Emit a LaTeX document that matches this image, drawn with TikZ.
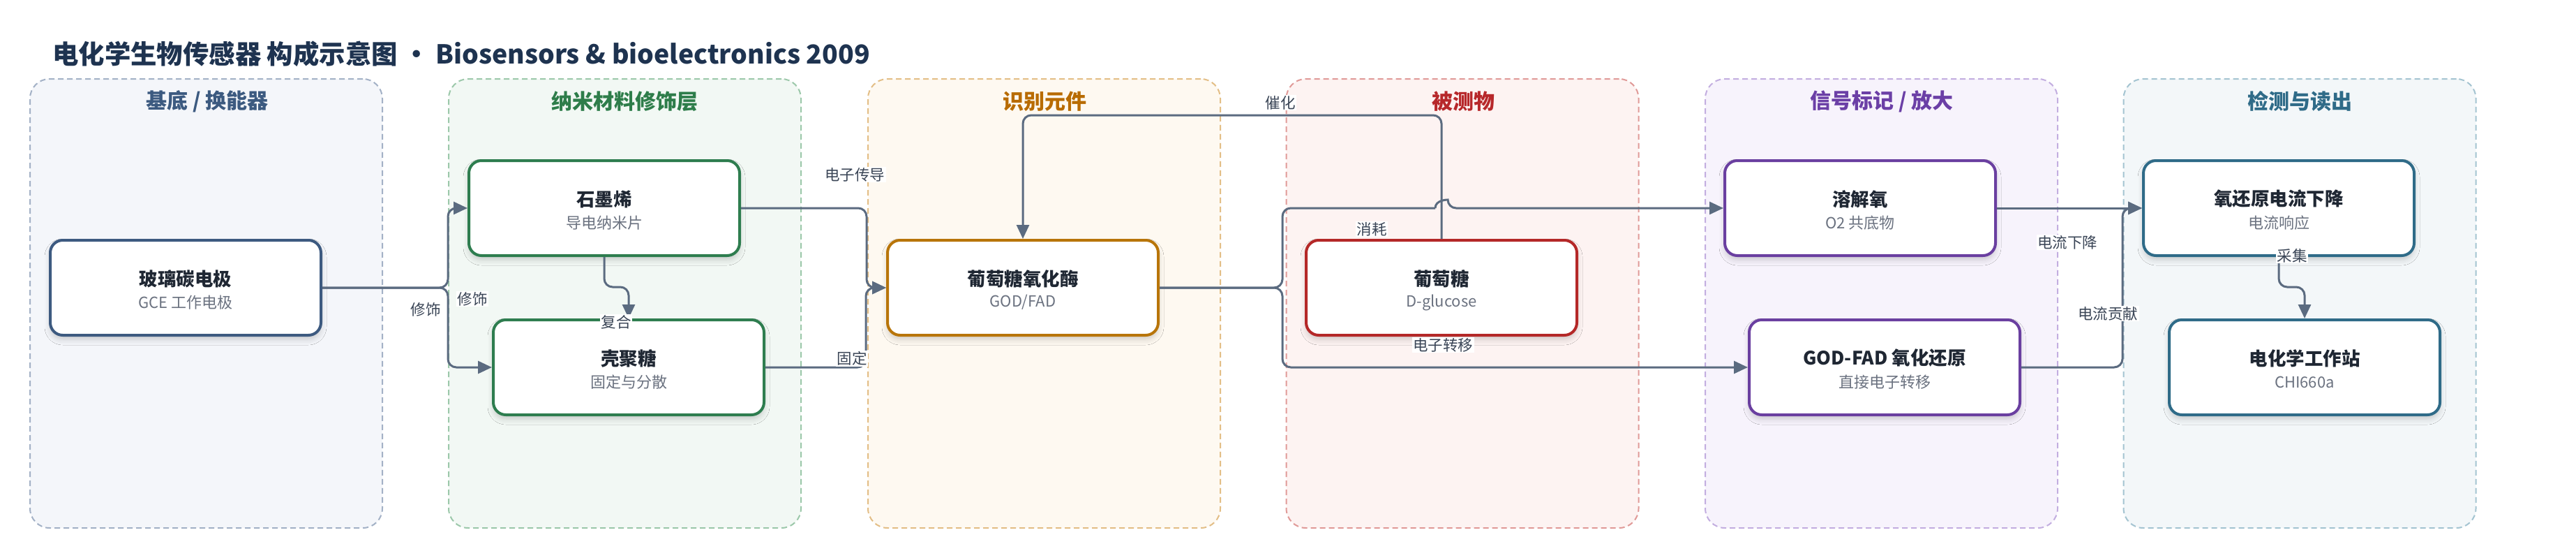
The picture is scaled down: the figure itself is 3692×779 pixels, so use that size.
\documentclass[tikz,border=0pt]{standalone}
\usepackage{fontspec}
\setmainfont{Noto Sans CJK SC}
\usetikzlibrary{arrows.meta,shadows.blur,calc}
\definecolor{titlec}{HTML}{1E3350}
\definecolor{edgec}{HTML}{5B6B80}
\definecolor{lblc}{HTML}{3A4556}
\definecolor{subc}{HTML}{6B7280}
\definecolor{ntc}{HTML}{1F2733}
\definecolor{bAf}{HTML}{F4F6FA}\definecolor{bAd}{HTML}{A3B1C6}\definecolor{bAt}{HTML}{3C5A80}
\definecolor{bBf}{HTML}{F2F8F4}\definecolor{bBd}{HTML}{9CC8AA}\definecolor{bBt}{HTML}{2E7D4A}
\definecolor{bCf}{HTML}{FEF9F1}\definecolor{bCd}{HTML}{E3BE86}\definecolor{bCt}{HTML}{B86B00}
\definecolor{bDf}{HTML}{FDF3F2}\definecolor{bDd}{HTML}{E09A98}\definecolor{bDt}{HTML}{B7282B}
\definecolor{bEf}{HTML}{F7F3FC}\definecolor{bEd}{HTML}{C3AEE0}\definecolor{bEt}{HTML}{6B3FA6}
\definecolor{bFf}{HTML}{F3F7F9}\definecolor{bFd}{HTML}{A4C4D1}\definecolor{bFt}{HTML}{2F6B88}
\definecolor{nA}{HTML}{3D5A80}
\definecolor{nB}{HTML}{2E7D4F}
\definecolor{nC}{HTML}{B8750A}
\definecolor{nD}{HTML}{B42828}
\definecolor{nE}{HTML}{6A3FA0}
\definecolor{nF}{HTML}{2F6B88}
\tikzset{
  panelbox/.style 2 args={draw=#1, fill=#2, line width=2pt, dash pattern=on 8pt off 5pt,
    rounded corners=28pt, minimum width=505pt, minimum height=643pt, inner sep=0pt},
  ptitle/.style={text=#1, font=\fontsize{30}{32}\selectfont\bfseries, inner sep=0pt},
  box/.style={draw=#1, fill=white, line width=4pt, rounded corners=18pt,
    minimum width=388pt, minimum height=136pt, inner sep=0pt,
    blur shadow={shadow xshift=0pt, shadow yshift=-6pt, shadow blur radius=8pt,
      shadow blur steps=6, shadow opacity=18}},
  ntitle/.style={text=ntc, font=\fontsize{26.5}{28}\selectfont\bfseries, inner sep=0pt},
  nsub/.style={text=subc, font=\fontsize{22}{24}\selectfont, inner sep=0pt},
  conn/.style={draw=edgec, line width=3pt, rounded corners=12pt},
  arr/.style={-{Triangle[length=20pt,width=18pt]}},
  lbl/.style={fill=white, text=lblc, font=\fontsize{21.5}{23}\selectfont, inner sep=1.5pt},
}
\newcommand\bnode[6]{%
  \node[box=#4] (#1) at (#2,#3) {};
  \node[ntitle] (#1-t) at ($(#1.center)+(0,-13)$) {#5};
  \node[nsub] (#1-s) at ($(#1.center)+(0,21)$) {#6};
}
\begin{document}
\begin{tikzpicture}[x=1pt,y=-1pt]
\fill[white] (0,0) rectangle (3692,779);
\useasboundingbox (0,0) rectangle (3692,779);
% title
\node[anchor=west, text=titlec, font=\fontsize{37.4}{40}\selectfont\bfseries, inner sep=0pt]
  (title) at (75,77) {电化学生物传感器 构成示意图 • Biosensors \& bioelectronics 2009};
% panels
\node[panelbox={bAd}{bAf}] (p1) at (295.5,434.5) {};
\node[panelbox={bBd}{bBf}] (p2) at (895.5,434.5) {};
\node[panelbox={bCd}{bCf}] (p3) at (1496.5,434.5) {};
\node[panelbox={bDd}{bDf}] (p4) at (2096,434.5) {};
\node[panelbox={bEd}{bEf}] (p5) at (2696.5,434.5) {};
\node[panelbox={bFd}{bFf}] (p6) at (3296,434.5) {};
\node[ptitle=bAt] (p1t) at (297,145) {基底 / 换能器};
\node[ptitle=bBt] (p2t) at (895,145) {纳米材料修饰层};
\node[ptitle=bCt] (p3t) at (1497,145) {识别元件};
\node[ptitle=bDt] (p4t) at (2097,145) {被测物};
\node[ptitle=bEt] (p5t) at (2697,145) {信号标记 / 放大};
\node[ptitle=bFt] (p6t) at (3296,145) {检测与读出};
% nodes
\bnode{gce}{266}{412}{nA}{玻璃碳电极}{GCE 工作电极}
\bnode{gra}{866}{298}{nB}{石墨烯}{导电纳米片}
\bnode{chi}{901}{526}{nB}{壳聚糖}{固定与分散}
\bnode{god}{1466}{412}{nC}{葡萄糖氧化酶}{GOD/FAD}
\bnode{glu}{2066}{412}{nD}{葡萄糖}{D-glucose}
\bnode{oxy}{2666}{298}{nE}{溶解氧}{O2 共底物}
\bnode{gfad}{2701}{526}{nE}{GOD-FAD 氧化还原}{直接电子转移}
\bnode{orr}{3266}{298}{nF}{氧还原电流下降}{电流响应}
\bnode{ws}{3303}{526}{nF}{电化学工作站}{CHI660a}
% connectors
\draw[conn,arr] (gce.east) -- ++(180,0) |- (gra.west);
\draw[conn,arr] (gce.east) -- ++(180,0) |- (chi.west);
\draw[conn,arr] (gra.south) -- ++(0,43) -| (chi.north);
\draw[conn,arr] (gra.east) -- ++(180,0) |- (god.west);
\draw[conn,arr] (chi.east) -- ++(144,0) |- (god.west);
\draw[conn,arr] (glu.north) -- ++(0,-177) -| (god.north);
\coordinate (hopL) at (2057,298);
\coordinate (hopR) at (2075,298);
\draw[conn] (god.east) -- ++(176,0) |- (hopL);
\draw[conn,arr] (hopL) .. controls (2057,286) and (2075,286) .. (hopR) -- (oxy.west);
\draw[conn,arr] (god.east) -- ++(176,0) |- (gfad.west);
\draw[conn,arr] (oxy.east) -- (orr.west);
\draw[conn,arr] (gfad.east) -- ++(145,0) |- (orr.west);
\draw[conn,arr] (orr.south) -- ++(0,43) -| (ws.north);
% labels
\node[lbl] (l1) at (610,443) {修饰};
\node[lbl] (l2) at (677,428) {修饰};
\node[lbl] (l3) at (883,461) {复合};
\node[lbl] (l4) at (1225,250) {电子传导};
\node[lbl] (l5) at (1221,513) {固定};
\node[lbl] (l6) at (1835,147) {催化};
\node[lbl] (l7) at (1966,328) {消耗};
\node[lbl] (l8) at (2068,494) {电子转移};
\node[lbl] (l9) at (2963,347) {电流下降};
\node[lbl] (l10) at (3021,449) {电流贡献};
\node[lbl] (l11) at (3285,366) {采集};
\end{tikzpicture}
\end{document}
